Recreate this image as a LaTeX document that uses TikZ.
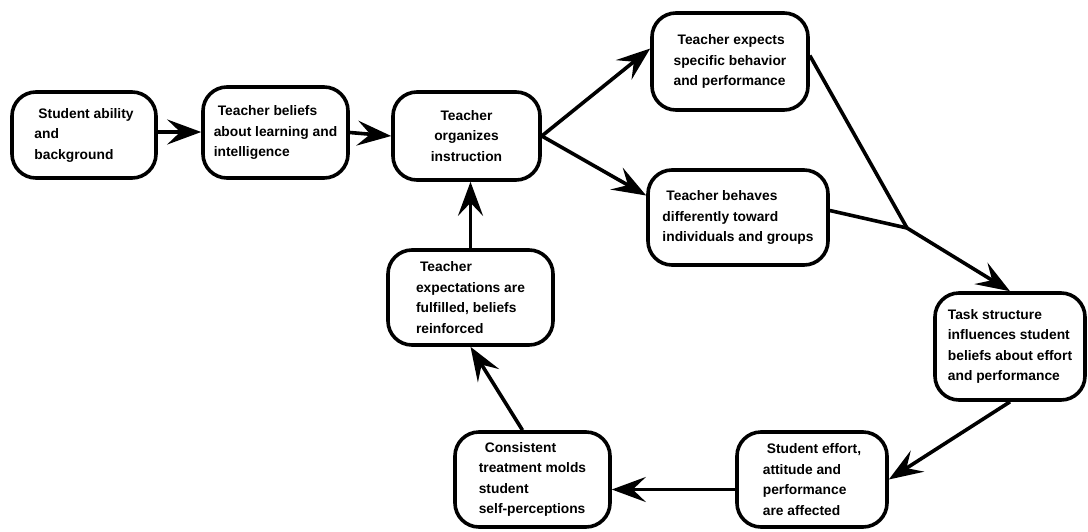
\documentclass[tikz,border=0pt]{standalone}
\usepackage{fontspec}
\setmainfont{Liberation Sans}
\usetikzlibrary{arrows.meta}
\begin{document}
\begin{tikzpicture}[x=1pt,y=-1pt,
  box/.style={draw, line width=3.6pt, rounded corners=24pt, align=left,
    font=\bfseries\fontsize{13.8}{20.5}\selectfont, inner sep=4pt},
  conn/.style={line width=3.6pt},
  arr/.style={conn, -{Stealth[length=34pt,width=25pt,inset=13pt]}}]
\useasboundingbox (0,0) rectangle (1088,531);
\node[box, minimum width=144pt, minimum height=86pt] (b1) at (84,135)
  {\hspace{4pt}Student ability\\and\\background};
\node[box, minimum width=145pt, minimum height=91pt] (b2) at (275.5,132.5)
  {\hspace{4pt}Teacher beliefs\\about learning and\\intelligence};
\node[box, minimum width=147pt, minimum height=88pt, align=center] (b3) at (466.5,136)
  {Teacher\\organizes\\instruction};
\node[box, minimum width=156pt, minimum height=97pt] (b4) at (730,61.5)
  {\hspace{4pt}Teacher expects\\specific behavior\\and performance};
\node[box, minimum width=180pt, minimum height=95pt] (b5) at (738,217.5)
  {\hspace{4pt}Teacher behaves\\differently toward\\individuals and groups};
\node[box, minimum width=165pt, minimum height=95pt] (b6) at (470.5,297.5)
  {\hspace{4pt}Teacher\\expectations are\\fulfilled, beliefs\\reinforced};
\node[box, minimum width=150pt, minimum height=107pt] (b7) at (1010,346.5)
  {Task structure\\influences student\\beliefs about effort\\and performance};
\node[box, minimum width=150pt, minimum height=95pt] (b8) at (812,479.5)
  {\hspace{4pt}Student effort,\\attitude and\\performance\\are affected};
\node[box, minimum width=155pt, minimum height=95pt] (b9) at (532.5,479.5)
  {\hspace{6pt}Consistent\\treatment molds\\student\\self-perceptions};
\coordinate (J) at (907,228);
\draw[arr] ([yshift=3pt]b1.east) -- ([yshift=0.5pt]b2.west);
\draw[arr] (b2.east) -- (b3.west);
\draw[arr] (b3.east) -- ([yshift=13pt]b4.west);
\draw[arr] (b3.east) -- ([yshift=22pt]b5.west);
\draw[conn] ([yshift=6pt]b4.east) -- (J);
\draw[conn] ([yshift=7pt]b5.east) -- (J);
\draw[arr] (J) -- (b7.north);
\draw[arr] (b7.south) -- (b8.east);
\draw[arr] ([yshift=-10pt]b8.west) -- ([yshift=-10pt]b9.east);
\draw[arr] ([xshift=-10pt]b9.north) -- (b6.south);
\draw[arr] (b6.north) -- (b6.north |- b3.south);
\end{tikzpicture}
\end{document}
